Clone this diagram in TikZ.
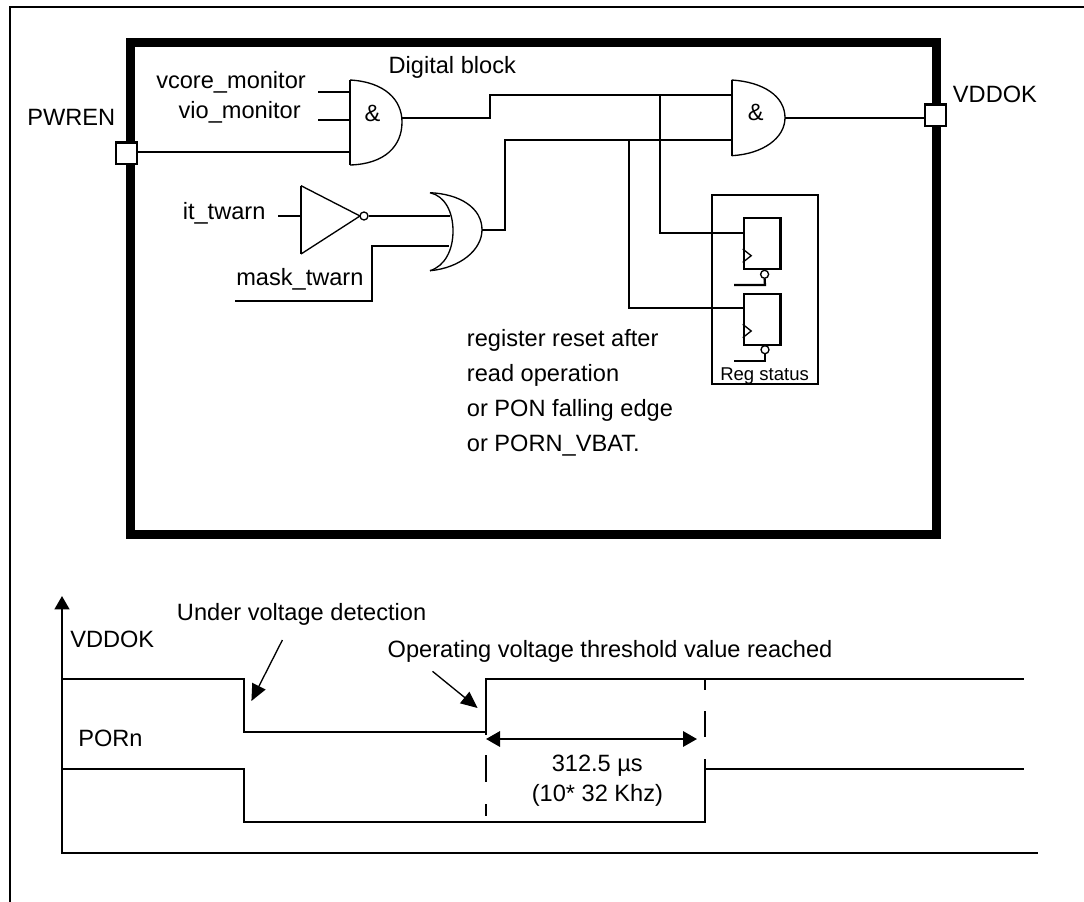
\documentclass[tikz,border=0pt]{standalone}
\usepackage{fontspec}
\setmainfont{Liberation Sans}
\usepackage{tikz}
\usetikzlibrary{arrows.meta, calc}
\tikzset{
  wire/.style={line width=1.7pt, line cap=butt, line join=miter},
  gate/.style={line width=1pt},
  lbl/.style={anchor=base west, inner sep=0pt, font=\fontsize{17.7}{20}\selectfont},
  pad/.style={draw, fill=white, line width=1.7pt, minimum size=16.2pt, inner sep=0pt},
  reg/.style={draw, line width=1.7pt, anchor=north west, minimum width=27.5pt, minimum height=38.5pt, inner sep=0pt},
  bubble/.style={circle, draw, fill=white, line width=1pt, minimum size=6pt, inner sep=0pt},
  tip/.style={-{Triangle[length=12.5pt, width=11pt]}},
}
\begin{document}
\begin{tikzpicture}[x=0.75pt, y=-0.75pt]
  \useasboundingbox (0,0) rectangle (1084,902);
  % outer frame, open on two sides
  \coordinate (frameA) at (10,902);
  \coordinate (frameB) at (10,6.7);
  \coordinate (frameC) at (1084,6.7);
  \draw[wire] (frameA) -- (frameB) -- (frameC);
  % digital block
  \coordinate (blockNW) at (130.5,42.5);
  \coordinate (blockSE) at (936.5,534.5);
  \draw[line width=6.4pt] (blockNW) rectangle (blockSE);
  \node[pad] (pwren) at (126.5,153.3) {};
  \node[pad] (vddokPad) at (935.5,115.3) {};
  \node[lbl] (pwrenLbl) at (27,126) {PWREN};
  \node[lbl] (vddokLbl) at (952.7,102.7) {VDDOK};
  \node[lbl] (digitalLbl) at (388.4,74) {Digital block};
  \node[lbl] (vcoreLbl) at (156,88.7) {vcore\_monitor};
  \node[lbl] (vioLbl) at (178.4,118.7) {vio\_monitor};
  \node[lbl] (itLbl) at (182.5,220) {it\_twarn};
  \node[lbl] (maskLbl) at (236,285) {mask\_twarn};
  % first and gate
  \coordinate (andA) at (350,80);
  \coordinate (andB) at (350,165);
  \coordinate (andOut) at (402,118);
  \draw[wire] (andA) -- (andB);
  \draw[gate] (andA) .. controls (385,82) and (402,100) .. (402,122) .. controls (402,146) and (385,164) .. (andB);
  \node (andSym) at (372.6,113) {\fontsize{17.7}{20}\selectfont\&};
  \coordinate (vcoreIn) at (318,91.7);
  \coordinate (vioIn) at (318,119.7);
  \draw[wire] (vcoreIn) -- (vcoreIn -| andA);
  \draw[wire] (vioIn) -- (vioIn -| andA);
  \draw[wire] (pwren.east |- 0,152) -- (350,152);
  % second and gate
  \coordinate (anddA) at (731.7,80);
  \coordinate (anddB) at (731.7,155.7);
  \coordinate (anddOut) at (785,117.7);
  \draw[wire] (anddA) -- (anddB);
  \draw[gate] (anddA) .. controls (763,82) and (785,96) .. (anddOut) .. controls (785,138) and (763,154) .. (anddB);
  \node (anddSym) at (755.7,112) {\fontsize{17.7}{20}\selectfont\&};
  \draw[wire] (anddOut) -- (vddokPad.west |- anddOut);
  % inverter and or gate
  \coordinate (invA) at (301,185.7);
  \coordinate (invB) at (301,254);
  \coordinate (invTip) at (360,216);
  \draw[wire] (invA) -- (invB);
  \draw[gate] (invA) -- (invTip) -- (invB);
  \node[bubble] (invDot) at (364,216) {};
  \coordinate (itIn) at (278,216);
  \draw[wire] (itIn) -- (301,216);
  \coordinate (orA) at (430,192.7);
  \coordinate (orB) at (430,270.7);
  \coordinate (orOut) at (482,229.7);
  \draw[gate] (orA) .. controls (460,194) and (482,208) .. (orOut) .. controls (482,250) and (460,268) .. (orB);
  \draw[gate] (orA) .. controls (445,196) and (453,212) .. (453,231) .. controls (453,250) and (445,266) .. (orB);
  \draw[wire] (invDot.east) -- (450,216);
  \coordinate (maskIn) at (235,300.7);
  \draw[wire] (maskIn) -- (372,300.7) -- (372,246) -- (449,246);
  % wires to the second and gate
  \draw[wire] (andOut) -- (490,118) -- (490,94.7) -- (731.7,94.7);
  \draw[wire] (orOut) -- (505,229.7) -- (505,140) -- (731.7,140);
  % status registers
  \draw[wire] (711.7,195) rectangle (818.3,383.7);
  \node[reg] (regOne) at (742.7,216.7) {};
  \node[reg] (regTwo) at (742.7,292.7) {};
  \foreach \regname/\regy in {regOne/249, regTwo/324.3} {
    \draw[gate] (\regname.west |- 0,\regy) -- ++(8.5,6.7) -- ++(-8.5,6.7);
  }
  \node[bubble] (dotOne) at (764.6,274.3) {};
  \node[bubble] (dotTwo) at (765,349.7) {};
  \draw[wire] (dotOne.south) -- (765,285) -- (734,285);
  \draw[wire] (dotTwo.south) -- (765,360.7) -- (734,360.7);
  \draw[wire] (660,94.7) -- (660,232.7) -- (regOne.west |- 0,232.7);
  \draw[wire] (629,140) -- (629,307.7) -- (regTwo.west |- 0,307.7);
  \node[lbl, font=\fontsize{13.9}{16}\selectfont] (regLbl) at (720,380) {Reg status};
  \node[lbl] (noteA) at (466.7,346) {register reset after};
  \node[lbl] (noteB) at (466.7,381) {read operation};
  \node[lbl] (noteC) at (466.7,416) {or PON falling edge};
  \node[lbl] (noteD) at (466.7,451) {or PORN\_VBAT.};
  % timing axes
  \coordinate (axisTop) at (62,596);
  \coordinate (axisO) at (62,853);
  \coordinate (axisEnd) at (1037.8,853);
  \draw[wire, {Triangle[length=10pt, width=11pt]}-] (axisTop) -- (axisO) -- (axisEnd);
  \node[lbl] (vddokAxis) at (70,647.7) {VDDOK};
  \node[lbl] (pornAxis) at (78,746.7) {PORn};
  \node[lbl] (underLbl) at (176.7,620) {Under voltage detection};
  \node[lbl] (operLbl) at (387.4,657) {Operating voltage threshold value reached};
  % traces
  \draw[wire] (62,678.7) -- (244.1,678.7) -- (244.1,731.7) -- (485.7,731.7) -- (485.7,678.7) -- (1023.9,678.7);
  \draw[wire] (62,769) -- (244.1,769) -- (244.1,821.7) -- (704.7,821.7) -- (704.7,759.3);
  \draw[wire] (704.7,769) -- (1023.9,769);
  % dashed markers
  \foreach \ya/\yb in {731.7/735, 755/782.3, 804.3/815.7} {
    \draw[wire] (485.7,\ya) -- (485.7,\yb);
  }
  \foreach \ya/\yb in {678.7/690, 711/737.3} {
    \draw[wire] (704.7,\ya) -- (704.7,\yb);
  }
  \coordinate (dimA) at (486,739);
  \coordinate (dimB) at (697,739);
  \draw[wire, {Triangle[length=10.5pt, width=11.5pt]}-{Triangle[length=10.5pt, width=11.5pt]}] (dimA) -- (dimB);
  \node[lbl] (timeLbl) at (551.5,771.7) {312.5 µs};
  \node[lbl] (freqLbl) at (531.6,801.7) {(10* 32 Khz)};
  % pointers
  \coordinate (underA) at (282.4,640);
  \coordinate (underB) at (251.4,701);
  \coordinate (operA) at (432.5,671.3);
  \coordinate (operB) at (477.6,708);
  \draw[line width=1pt, tip] (underA) -- (underB);
  \draw[line width=1pt, tip] (operA) -- (operB);
\end{tikzpicture}
\end{document}
